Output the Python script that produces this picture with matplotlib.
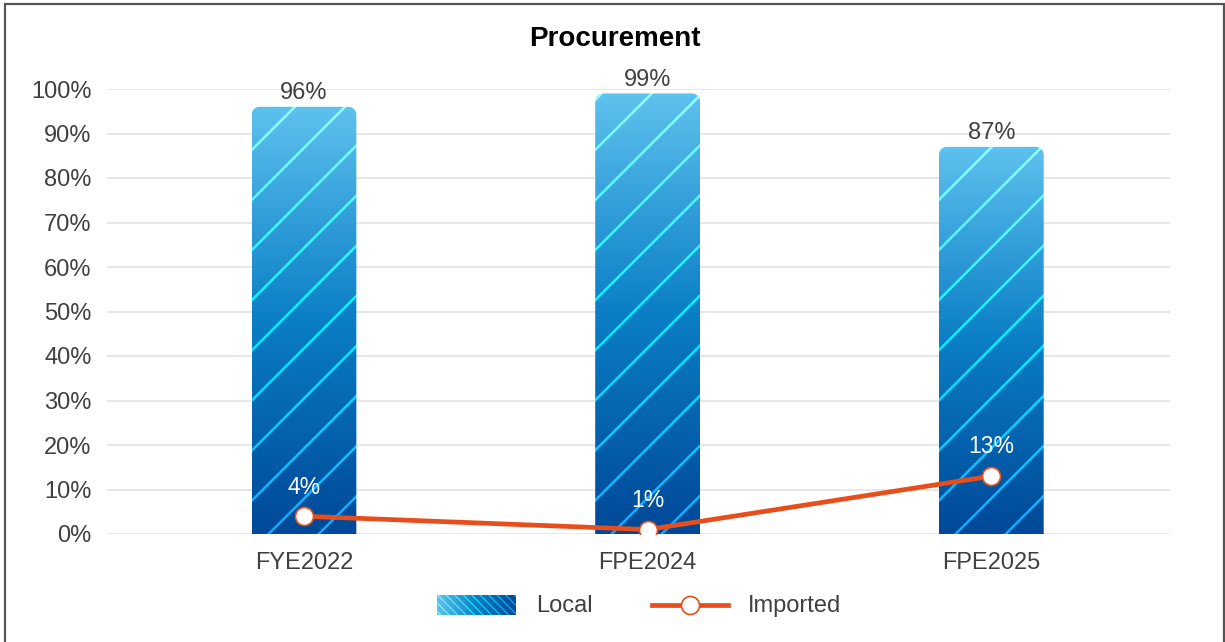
import numpy as np
import matplotlib.pyplot as plt
from matplotlib.path import Path
from matplotlib.patches import PathPatch, Rectangle
from matplotlib.lines import Line2D

plt.rcParams['font.family'] = ['Liberation Sans', 'DejaVu Sans']

# data
periods = ['FYE2022', 'FPE2024', 'FPE2025']
local = [96, 99, 87]
imported = [4, 1, 13]

W, H, DPI = 1225, 642, 100
fig = plt.figure(figsize=(W / DPI, H / DPI), dpi=DPI)

# axes box in pixels
ax_l, ax_r, ax_t, ax_b = 107, 1170, 89, 534
ax = fig.add_axes([ax_l / W, (H - ax_b) / H, (ax_r - ax_l) / W, (ax_b - ax_t) / H])
xlim = (-0.573, 2.52)
ax.set_xlim(*xlim)
ax.set_ylim(0, 100)
px_x = (ax_r - ax_l) / (xlim[1] - xlim[0])   # pixels per x unit
px_y = (ax_b - ax_t) / 100.0                  # pixels per percent

fs = 17
for s in ax.spines.values():
    s.set_visible(False)
ax.set_yticks(range(0, 101, 10))
ax.set_yticklabels([f'{v}%' for v in range(0, 101, 10)])
ax.yaxis.grid(True, color='#e3e3e3', linewidth=1.2)
ax.set_axisbelow(True)
ax.tick_params(axis='y', length=0, pad=11, labelsize=fs, labelcolor='#404040')
ax.tick_params(axis='x', length=0, pad=13, labelsize=fs, labelcolor='#404040')
x = np.arange(len(periods))
ax.set_xticks(x)
ax.set_xticklabels(periods)

def lerp(stops, t):
    pos = np.array([s[0] for s in stops])
    cols = np.array([s[1] for s in stops], dtype=float) / 255
    return np.stack([np.interp(t, pos, cols[:, i]) for i in range(3)], axis=-1)

fill_stops = [(0, (0, 72, 152)), (0.5, (10, 126, 198)), (1, (94, 194, 238))]
stripe_stops = [(0, (24, 168, 255)), (0.5, (0, 245, 255)), (1, (150, 255, 255))]

def rounded_top(x0, x1, top, r=8):
    rx, ry = r / px_x, r / px_y
    th = np.linspace(0, np.pi / 2, 12)
    verts = [(x0, 0)]
    verts += [(x0 + rx - rx * np.cos(a), top - ry + ry * np.sin(a)) for a in th]
    verts += [(x1 - rx + rx * np.sin(a), top - ry + ry * np.cos(a)) for a in th]
    verts += [(x1, 0), (x0, 0)]
    codes = [Path.MOVETO] + [Path.LINETO] * (len(verts) - 2) + [Path.CLOSEPOLY]
    return Path(verts, codes)

bw = 0.305
for xi, v in zip(x, local):
    x0, x1 = xi - bw / 2, xi + bw / 2
    wpx, hpx = int((x1 - x0) * px_x * 4), int(v * px_y * 4)
    xx, yy = np.meshgrid(np.arange(wpx) / 4, np.arange(hpx)[::-1] / 4)
    t = yy / (hpx / 4)
    img = lerp(fill_stops, t)
    stripe = ((xx - yy - 15) % 50) < 3.4
    img[stripe] = lerp(stripe_stops, t)[stripe]
    clip = PathPatch(rounded_top(x0, x1, v), transform=ax.transData, facecolor='none', edgecolor='none')
    ax.add_patch(clip)
    im = ax.imshow(img, extent=[x0, x1, 0, v], aspect='auto', interpolation='antialiased', zorder=2)
    im.set_clip_path(clip)
    ax.annotate(f'{v}%', (xi, v), xytext=(0, 10), textcoords='offset points',
                ha='center', va='center', fontsize=fs, color='#404040', annotation_clip=False)

orange = '#e84e1b'
ax.plot(x, imported, color=orange, linewidth=3.4, marker='o', markersize=13,
        markerfacecolor='white', markeredgecolor=orange, markeredgewidth=1.2, zorder=4)
for xi, v in zip(x, imported):
    ax.annotate(f'{v}%', (xi, v), xytext=(0, 21), textcoords='offset points',
                ha='center', va='center', fontsize=16.5, color='white', zorder=5)

ax.set_xlim(*xlim)
ax.set_ylim(0, 100)

fig.text(615 / W, 1 - 39 / H, 'Procurement', ha='center', va='center',
         fontsize=20, fontweight='bold', color='black')

# legend: striped swatch
lx0, lx1, ly0, ly1 = 437, 516, 595, 615
lax = fig.add_axes([lx0 / W, (H - ly1) / H, (lx1 - lx0) / W, (ly1 - ly0) / H])
lw, lh = (lx1 - lx0) * 4, (ly1 - ly0) * 4
gx, gy = np.meshgrid(np.arange(lw) / 4, np.arange(lh) / 4)
lg = lerp(fill_stops, 1 - gx / (lw / 4))
lmask = ((gx - gy) % 8.5) < 1.5
lg[lmask] = lerp(stripe_stops, 1 - gx / (lw / 4))[lmask]
lax.imshow(lg, aspect='auto', interpolation='antialiased')
lax.axis('off')
fig.text(536 / W, 1 - 606 / H, 'Local', ha='left', va='center', fontsize=fs, color='#404040')

fig.add_artist(Line2D([652 / W, 728 / W], [1 - 605 / H] * 2, color=orange, linewidth=3.4))
fig.add_artist(Line2D([690 / W], [1 - 605 / H], marker='o', markersize=13, markerfacecolor='white',
                      markeredgecolor=orange, markeredgewidth=1.2))
fig.text(748 / W, 1 - 606 / H, 'Imported', ha='left', va='center', fontsize=fs, color='#404040')

# outer frame
fig.add_artist(Rectangle((5 / W, -0.05), 1219 / W, 1.05 - 4 / H, transform=fig.transFigure,
                         fill=False, edgecolor='#555555', linewidth=1.6))

fig.savefig('out.png', dpi=DPI)
